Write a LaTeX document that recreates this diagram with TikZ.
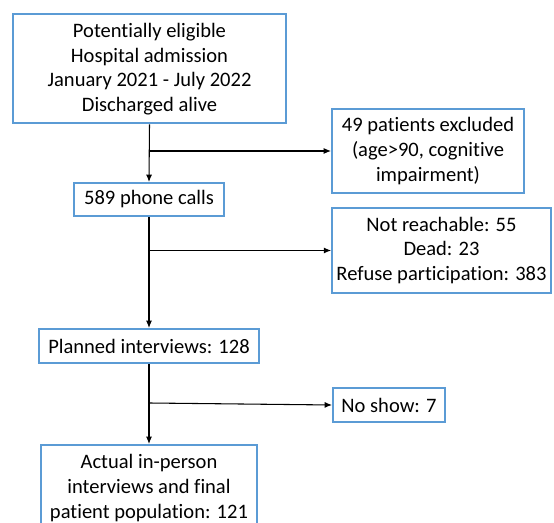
\documentclass[tikz,border=0pt]{standalone}
\usepackage{fontspec}
\setmainfont{Carlito}[Ligatures=NoCommon]
\usetikzlibrary{arrows.meta}
\definecolor{boxblue}{RGB}{91,155,213}

\begin{document}
\begin{tikzpicture}[x=0.75pt, y=-0.75pt,
		box/.style={draw=boxblue, line width=1.5pt, fill=white, align=center, inner sep=0pt,
			font=\fontsize{15.4pt}{18.4pt}\selectfont},
		flow/.style={-{Latex[length=5.5pt,width=4.5pt]}, line width=0.8pt}]
		\useasboundingbox (0,0) rectangle (554,523);
		\clip (0,0) rectangle (554,523);
		
		\node[box, minimum width=204.75pt, minimum height=81.75pt] (elig) at (149.5,69) {Potentially eligible\\Hospital admission\\January 2021 - July 2022\\Discharged alive};
		\node[box, minimum width=112.5pt, minimum height=24.75pt] (calls) at (149,199.5) {589 phone calls};
		\node[box, minimum width=165pt, minimum height=25.5pt] (plan) at (149,346) {Planned interviews: 128};
		\node[box, minimum width=162pt, minimum height=64.5pt] (final) at (149,488) {Actual in-person\\interviews and final\\patient population: 121};
		
		\node[box, minimum width=144pt, minimum height=63pt] (excl) at (428,151) {49 patients excluded\\(age>90, cognitive\\impairment)};
		\node[box, minimum width=164pt, minimum height=63.75pt] (lost) at (441.5,250.5) {Not reachable: 55\\Dead: 23\\Refuse participation: 383};
		\node[box, minimum width=84pt, minimum height=25.5pt] (noshow) at (389,405) {No show: 7};
		
		% branch points on the main line
		\coordinate (j1) at (149,151);
		\coordinate (j2) at (149,250.5);
		\coordinate (j3) at (149,403);
		
		\draw[flow] (elig.south) -- (calls.north);
		\draw[flow] (calls.south) -- (plan.north);
		\draw[flow] (plan.south) -- (final.north);
		
		\draw[flow] (j1) -- (excl.west);
		\draw[flow] (j2) -- (lost.west);
		\draw[flow] (j3) -- (noshow.west);
	\end{tikzpicture}
\end{document}
